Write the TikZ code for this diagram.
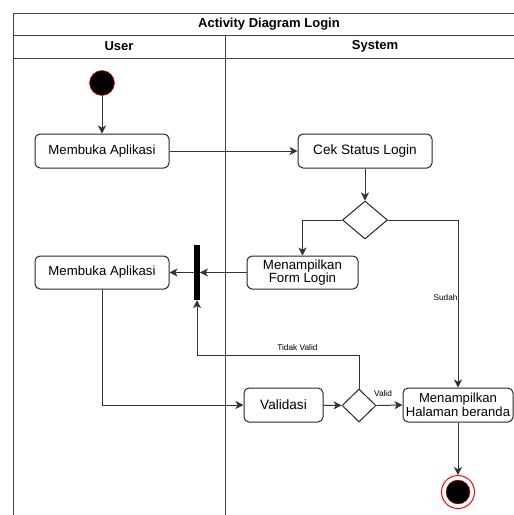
\documentclass[tikz,border=0pt]{standalone}
\usepackage{fontspec}
\setmainfont{Liberation Sans}
\usetikzlibrary{shapes.geometric,arrows.meta,calc}
\begin{document}
\begin{tikzpicture}[x=1pt,y=-1pt,
  frame/.style={draw=black!75,line width=1pt},
  act/.style={draw=black!85,rounded corners=5pt,line width=1pt,inner sep=0pt,
    align=center,font=\fontsize{13.2}{14}\selectfont},
  dec/.style={draw=black!85,diamond,line width=1pt,inner sep=0pt},
  arr/.style={draw=black!80,line width=1pt,-{Stealth[length=8pt,width=8pt,inset=2.2pt]}},
  lbl/.style={font=\fontsize{8.3}{9}\selectfont,inner sep=1pt},
  hdr/.style={font=\bfseries\fontsize{13}{14}\selectfont}]
\useasboundingbox (0,0) rectangle (514,515);
% frame
\draw[frame] (13,515) -- (13,13) -- (515,13);
\draw[frame] (13,35) -- (515,35);
\draw[frame] (13,58) -- (515,58);
\draw[frame] (225,35) -- (225,515);
\node[hdr] (title) at (269,24) {Activity Diagram Login};
\node[hdr] (user) at (119,46.5) {User};
\node[hdr] (system) at (375,46.5) {System};
% nodes
\node[circle,fill=black,draw=red,line width=0.5pt,minimum size=25pt,inner sep=0pt] (start) at (102,83) {};
\node[act,minimum width=134pt,minimum height=34pt] (b1) at (102,151) {Membuka Aplikasi};
\node[act,minimum width=134pt,minimum height=34pt,font=\fontsize{13.6}{14}\selectfont] (cek) at (365,151) {Cek Status Login};
\node[dec,minimum width=45pt,minimum height=38pt] (d1) at (365,220) {};
\node[act,minimum width=111pt,minimum height=33pt,font=\fontsize{13.3}{13.5}\selectfont] (form) at (302.5,272.5) {Menampilkan\\Form Login};
\node[fill=black,minimum width=5.5pt,minimum height=55pt,inner sep=0pt] (bar) at (197,272.5) {};
\node[act,minimum width=134pt,minimum height=33pt] (b2) at (102,272.5) {Membuka Aplikasi};
\node[act,minimum width=79pt,minimum height=34pt,font=\fontsize{13.6}{14}\selectfont] (val) at (283.5,405) {Validasi};
\node[dec,minimum width=34pt,minimum height=33pt] (d2) at (359,405.5) {};
\node[act,minimum width=110pt,minimum height=34pt,font=\fontsize{13.1}{14}\selectfont] (hal) at (458,405) {Menampilkan\\Halaman beranda};
\node[circle,draw=red,fill=white,line width=1pt,minimum size=33pt,inner sep=0pt] (end) at (458,492) {};
\node[circle,fill=black,draw=red,line width=0.4pt,minimum size=24pt,inner sep=0pt] (endin) at (458,492) {};
% connectors
\draw[arr] (start) -- (b1);
\draw[arr] (b1) -- (cek);
\draw[arr] (cek) -- (d1);
\draw[arr] (d1.west) -| (form.north);
\draw[arr] (d1.east) -| node[lbl,pos=0.73,anchor=east,inner sep=0pt] {Sudah} (hal.north);
\draw[arr] (form.west) -- (bar.east);
\draw[arr] (bar.west) -- (b2.east);
\coordinate (tv) at (197,355);
\draw[arr] (d2.north) |- node[lbl,pos=0.69,above=3pt] {Tidak Valid} (tv) -- (bar.south);
\draw[arr] (b2.south) |- (val.west);
\draw[arr] (val) -- (d2);
\draw[arr] (d2.east) -- node[lbl,above=7pt,pos=0.25] {Valid} (hal.west);
\draw[arr] (hal.south) -- (end.north);
\end{tikzpicture}
\end{document}
